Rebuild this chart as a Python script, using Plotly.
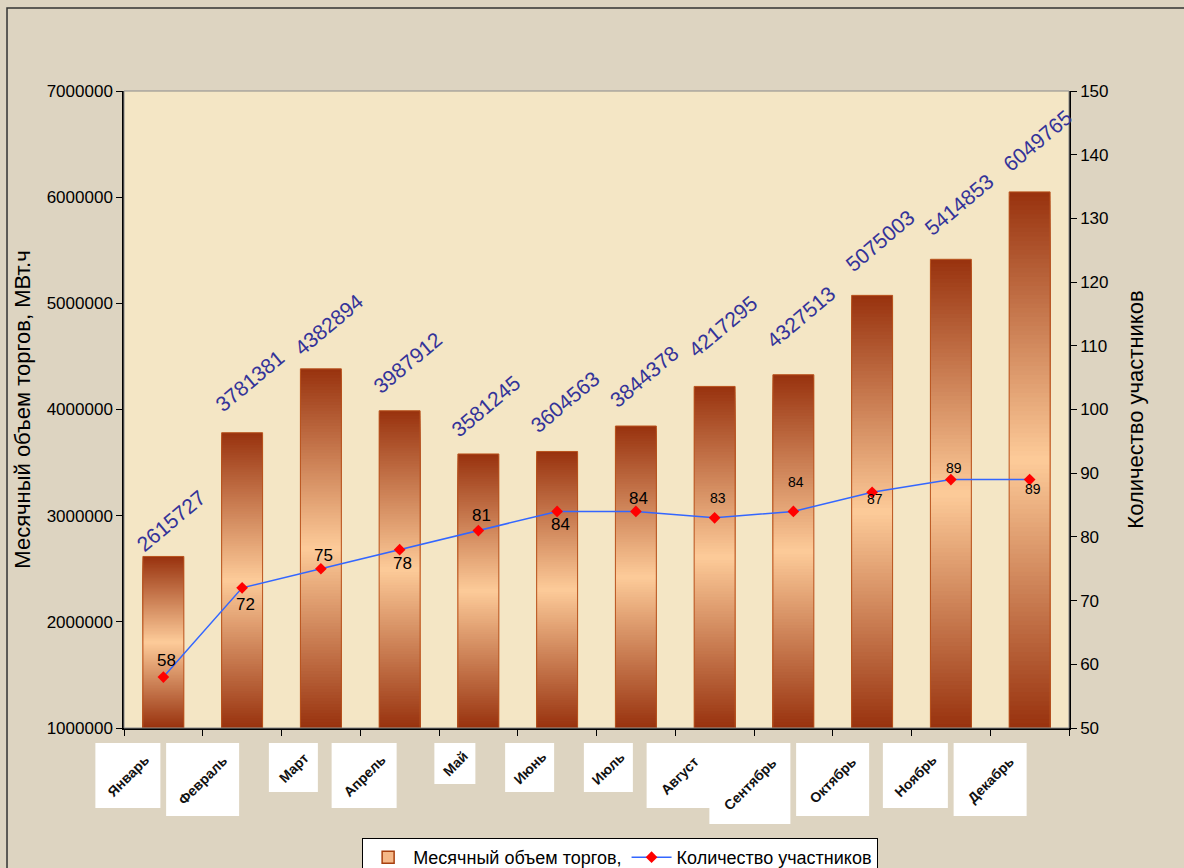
import plotly.graph_objects as go

# Monthly trading volume and number of market participants
MONTHS = ["Январь", "Февраль", "Март", "Апрель", "Май", "Июнь",
          "Июль", "Август", "Сентябрь", "Октябрь", "Ноябрь", "Декабрь"]
VOLUME = [2615727, 3781381, 4382894, 3987912, 3581245, 3604563,
          3844378, 4217295, 4327513, 5075003, 5414853, 6049765]
PARTICIPANTS = [58, 72, 75, 78, 81, 84, 84, 83, 84, 87, 89, 89]

VOL_TITLE = "Месячный объем торгов, МВт.ч"
PART_TITLE = "Количество участников"
VOL_LEGEND = "Месячный объем торгов,"

Y_MIN, Y_MAX = 1_000_000, 7_000_000
Y2_MIN, Y2_MAX = 50, 150

# label placement (pixels)
BAR_LABEL_LIFT = [36, 52, 44, 48, 48, 50, 50, 60, 58, 55, 55, 51]
PT_LABEL_SHIFT = [17, -17, 13, -14, 15, -13, 13, 20, 29, -7, 12, -9]
PT_LABEL_SIZE = [17, 17, 17, 17, 17, 17, 17, 14, 14, 14, 14, 14]

FONT = "Arial, Liberation Sans, sans-serif"
DARK = (152, 50, 14)
LIGHT = (253, 203, 153)
EDGE = "#b9531d"
N_SLICES = 120


def blend(w):
    r, g, b = (round(d + (l - d) * w) for d, l in zip(DARK, LIGHT))
    return f"rgb({r},{g},{b})"


fig = go.Figure()

# gradient bars: tallest first, each shorter layer shows its own top slice
for k in range(N_SLICES):
    frac = (N_SLICES - k) / N_SLICES
    t = (N_SLICES - k - 0.5) / N_SLICES
    w = 1 - abs(2 * t - 1)
    fig.add_trace(go.Bar(
        x=MONTHS,
        y=[(v - Y_MIN) * frac for v in VOLUME],
        base=Y_MIN,
        marker=dict(color=blend(w), line=dict(width=0)),
        showlegend=False, hoverinfo="skip",
    ))

# bar outlines
fig.add_trace(go.Bar(
    x=MONTHS, y=[v - Y_MIN for v in VOLUME], base=Y_MIN,
    marker=dict(color="rgba(0,0,0,0)", line=dict(color=EDGE, width=1)),
    showlegend=False, name=VOL_LEGEND,
))

# legend entry for the volume bars
fig.add_trace(go.Bar(
    x=[MONTHS[0]], y=[None], name=VOL_LEGEND,
    marker=dict(color="#f5b888", line=dict(color="#a8400f", width=1.5)),
))

fig.add_trace(go.Scatter(
    x=MONTHS, y=PARTICIPANTS, yaxis="y2", name=PART_TITLE,
    mode="lines+markers",
    line=dict(color="#3366ff", width=1.5),
    marker=dict(symbol="diamond", color="#ff0000", size=9),
))

annotations = []
# bar value labels
for m, v, lift in zip(MONTHS, VOLUME, BAR_LABEL_LIFT):
    annotations.append(dict(
        x=m, y=v, xref="x", yref="y", text=str(v), showarrow=False,
        textangle=-40, xanchor="center", yanchor="middle",
        xshift=8, yshift=lift,
        font=dict(family=FONT, size=21, color="#333399"),
    ))
# participant labels
for m, p, sh, sz in zip(MONTHS, PARTICIPANTS, PT_LABEL_SHIFT, PT_LABEL_SIZE):
    annotations.append(dict(
        x=m, y=p, xref="x", yref="y2", text=str(p), showarrow=False,
        xanchor="center", yanchor="middle", xshift=3, yshift=sh,
        font=dict(family=FONT, size=sz, color="#000000"),
    ))

shapes = []
# outer chart frame
shapes.append(dict(type="rect", xref="paper", yref="paper",
                   x0=-0.1238, x1=1.3, y0=-0.4, y1=1.1303,
                   line=dict(color="#333333", width=1.5), layer="below"))
# plot area frame
shapes.append(dict(type="rect", xref="paper", yref="paper",
                   x0=0, x1=1, y0=0, y1=1,
                   line=dict(color="#8a8a8a", width=1), layer="above"))

# month labels on white tiles under each category slot
n = len(MONTHS)
for i, m in enumerate(MONTHS):
    side = 17 + 8 * len(m)
    shapes.append(dict(
        type="rect", xref="paper", yref="paper",
        xsizemode="pixel", ysizemode="pixel",
        xanchor=(i + 0.5) / n, yanchor=0,
        x0=-3 - side, x1=-3, y0=-15 - side, y1=-15,
        fillcolor="#ffffff", line=dict(width=0), layer="above",
    ))
    annotations.append(dict(
        x=m, y=0, xref="x", yref="paper", text=f"<b>{m}</b>", showarrow=False,
        textangle=-45, xanchor="center", yanchor="middle",
        xshift=-3 - side / 2, yshift=-15 - side / 2,
        font=dict(family=FONT, size=14, color="#111111"),
    ))

fig.update_layout(
    width=1184, height=868,
    margin=dict(l=124, r=115, t=91, b=140, autoexpand=False),
    paper_bgcolor="#ddd4c1",
    plot_bgcolor="#f4e6c5",
    barmode="overlay",
    bargap=0.48,
    font=dict(family=FONT, size=17, color="#000000"),
    showlegend=True,
    legend=dict(
        orientation="h", x=0.525, xanchor="center", y=-0.1727, yanchor="top",
        bgcolor="#ffffff", bordercolor="#000000", borderwidth=1,
        font=dict(family=FONT, size=18), traceorder="normal",
        itemwidth=40,
    ),
    xaxis=dict(
        type="category", range=[-0.5, n - 0.5],
        showticklabels=False, showgrid=False,
        showline=True, linecolor="#000000", linewidth=1.5,
        ticks="outside", tickson="boundaries", ticklen=6, tickcolor="#000000",
    ),
    yaxis=dict(
        range=[Y_MIN, Y_MAX], dtick=1_000_000, tickformat="d",
        showgrid=False, zeroline=False,
        showline=True, linecolor="#000000", linewidth=1.5,
        ticks="outside", ticklen=6, tickcolor="#000000",
        tickfont=dict(size=17),
        title=dict(text=VOL_TITLE, font=dict(size=22), standoff=10),
    ),
    yaxis2=dict(
        range=[Y2_MIN, Y2_MAX], dtick=10, overlaying="y", side="right",
        showgrid=False, zeroline=False,
        showline=True, linecolor="#000000", linewidth=1.5,
        ticks="outside", ticklen=6, tickcolor="#000000",
        tickfont=dict(size=17),
        title=dict(text=PART_TITLE, font=dict(size=22), standoff=20),
    ),
    annotations=annotations,
    shapes=shapes,
)

fig.write_html("out.html")
